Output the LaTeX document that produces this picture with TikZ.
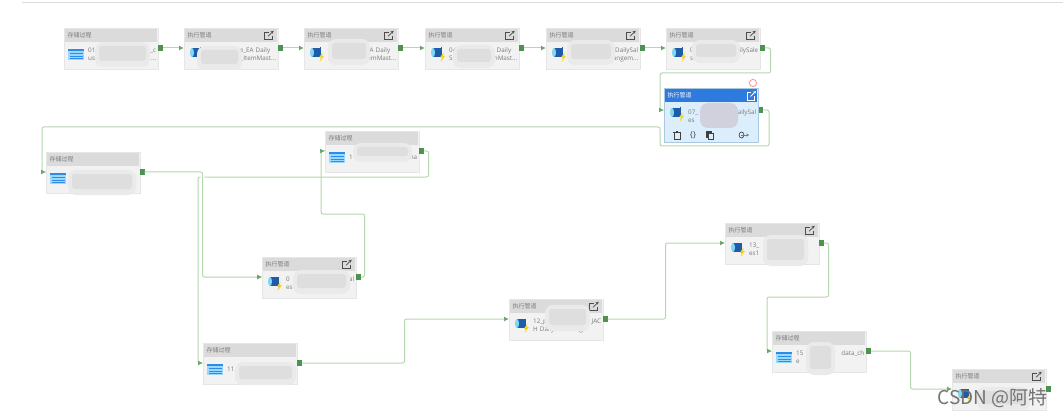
\documentclass[tikz,border=0pt]{standalone}
\usepackage{fontspec}
\setmainfont{Open Sans}
\newfontfamily\cjk{Noto Sans CJK SC}
\usetikzlibrary{arrows.meta}

\definecolor{wiregreen}{HTML}{B6D5B1}
\definecolor{tipgreen}{HTML}{6BA868}
\definecolor{portgreen}{HTML}{4C9350}
\definecolor{cardfill}{HTML}{F2F2F2}
\definecolor{cardline}{HTML}{E6E6E6}
\definecolor{headfill}{HTML}{DBDBDB}
\definecolor{labelgrey}{HTML}{7A7A7A}
\definecolor{pickfill}{HTML}{DCEDFB}
\definecolor{pickhead}{HTML}{2F7BDD}
\definecolor{pickline}{HTML}{A9C9E2}
\definecolor{drumblue}{HTML}{1F5CA8}
\definecolor{drumcap}{HTML}{7FD6F5}
\definecolor{boltyellow}{HTML}{F7D21E}
\definecolor{sheetblue}{HTML}{2C8CE6}
\definecolor{sheetpale}{HTML}{9AD9FF}
\definecolor{smudge}{HTML}{EAEAEA}
\definecolor{smudgecore}{HTML}{DEDEDE}

\tikzset{
  execicon/.pic={
    \fill[drumblue] (-4,-5) rectangle (3.5,4);
    \fill[drumblue] (3.5,-5.5) rectangle (5,4.5);
    \fill[drumcap] (-4,-.5) ellipse (2 and 4.5);
    \fill[boltyellow] (6.5,-.5) -- (3,4.5) -- (5,4.5) -- (3.5,9) -- (8,3) -- (6,3) -- cycle;
  },
  procicon/.pic={
    \fill[sheetpale] (-8,-3.8) rectangle (8,7.2);
    \fill[sheetblue] (-8,-3.8) rectangle (8,-1.8);
    \foreach \ya in {0.2,2.6,5} \fill[sheetblue] (-6.5,\ya) rectangle (6.5,\ya+.9);
  },
  linkicon/.pic={
    \draw[line width=.8pt] (0,-3.5) -- (-4,-3.5) -- (-4,4) -- (3.5,4) -- (3.5,0);
    \draw[line width=.8pt,-{Stealth[length=3pt,width=3pt]}] (-.5,.5) -- (5,-5);
  }
}

% one card: name, left, top, title, icon, text
\newcommand{\flowcard}[6]{
  \node[cardbox] (#1) at (#2,#3) {};
  \node[cardhead] (#1h) at ([yshift=-1pt]#1.north) {#4};
  \node[port] (#1o) at (#2+96.5,#3+20) {};
  \coordinate (#1i) at (#2,#3+20);
  \pic at (#2+12,#3+25) {#5};
  \node[cardtext] (#1t) at (#2+24,#3+26.5) {#6};
}
\newcommand{\lineab}[2]{\makebox[68pt]{#1\hfill #2}}

\begin{document}
\begin{tikzpicture}[x=1pt, y=-1pt, font=\fontsize{6.3}{8}\selectfont,
  cardbox/.style={draw=cardline, fill=cardfill, anchor=north west, minimum width=94pt, minimum height=41pt, inner sep=0pt},
  cardhead/.style={fill=headfill, anchor=north, minimum width=92.5pt, minimum height=13pt, inner sep=0pt, text width=87pt, align=left, text=labelgrey, font=\cjk\fontsize{6}{7}\selectfont},
  cardtext/.style={anchor=west, text width=68pt, align=left, inner sep=0pt, text=labelgrey},
  port/.style={fill=portgreen, minimum width=4.5pt, minimum height=5.5pt, inner sep=0pt},
  wire/.style={draw=wiregreen, line width=1pt, rounded corners=2pt, -{Latex[length=5pt,width=5pt,color=tipgreen]}}]
\useasboundingbox (0,0) rectangle (1063,417);
\draw[draw=headfill, line width=1pt] (22,3) -- (1063,3);

% first row
\flowcard{b1}{64}{28}{存储过程}{procicon}{\lineab{01}{\_c}\\\lineab{us}{...}}
\flowcard{b2}{184}{28}{执行管道}{execicon}{\lineab{}{e\_EA Daily\hspace{6pt}}\\\lineab{}{\_ItemMast...}}
\flowcard{b3}{304}{28}{执行管道}{execicon}{\lineab{}{A Daily\hspace{6pt}}\\\lineab{S}{temMast...}}
\flowcard{b4}{425}{28}{执行管道}{execicon}{\lineab{04}{Daily\hspace{6pt}}\\\lineab{S}{nMast...}}
\flowcard{b5}{546}{28}{执行管道}{execicon}{\lineab{}{DailySal}\\\lineab{}{angem...}}
\flowcard{b6}{666}{28}{执行管道}{execicon}{\lineab{0}{ilySale}\\s}

% selected card
\node[cardbox, draw=pickline, fill=pickfill, minimum height=54pt] (b7) at (664,88) {};
\node[cardhead, fill=pickhead, text=white] (b7h) at ([yshift=-1pt]b7.north) {执行管道};
\node[port] (b7o) at (761,110) {};
\coordinate (b7i) at (664,110);
\pic at (676,113) {execicon};
\node[cardtext] (b7t) at (688,116.5) {\lineab{07\_}{DailySal}\\es};
\draw[red!45, line width=.8pt] (753,83) circle (3.6);
\pic[white] at (751,96) {linkicon};
% toolbar
\draw[black!75, line width=.9pt] (674,132) rectangle (680,139) (673,132) -- (681,132) (676,131) -- (678,131);
\node[text=black!75, font=\fontsize{8}{8}\selectfont, inner sep=0pt] (braces) at (693,135) {\{\}};
\draw[black!75, line width=.9pt, fill=black!75] (706,131) rectangle (711,137);
\draw[black!75, line width=.9pt, fill=pickfill] (708,133) rectangle (713,139);
\draw[black!70, line width=.7pt] (741.5,135) ellipse (2.4 and 3);
\draw[cyan!70!black, line width=.7pt, -{Stealth[length=2.5pt,width=3pt]}] (741,135) -- (749,135);

% lower cards
\flowcard{b8}{46}{152}{存储过程}{procicon}{}
\flowcard{b9}{325}{131}{存储过程}{procicon}{\lineab{1}{na}}
\flowcard{b10}{262}{257}{执行管道}{execicon}{\lineab{0}{al}\\es}
\flowcard{b11}{203}{343}{存储过程}{procicon}{11}
\flowcard{b12}{509}{299}{执行管道}{execicon}{\lineab{12\_p}{JAC}\\H Daily\hspace{18pt}aag}
\flowcard{b13}{725}{223}{执行管道}{execicon}{13\_\\es1}
\flowcard{b15}{772}{331}{存储过程}{procicon}{\lineab{15}{data\_ch}\\e}
\flowcard{b16}{952}{369}{执行管道}{execicon}{}

% header icons
\foreach \nm in {b2,b3,b4,b5,b6,b10,b12,b13,b16}
  \pic[black!70] at ([xshift=-9pt]\nm h.east) {linkicon};

% smudges over the names
\foreach \xa/\ya/\xb/\yb in {95/42/150/67,197/46/242/70,328/39/370/65,453/45/495/68,567/40/615/65,692/40/740/63,68/170/136/195,353/143/412/162,293/270/350/294,235/362/296/385,545/305/590/331,763/235/808/266,806/342/835/375,977/387/1030/410}{
  \fill[smudge, rounded corners=8pt] (\xa,\ya) rectangle (\xb,\yb);
  \fill[smudgecore, rounded corners=3pt] (\xa+4,\ya+4) rectangle (\xb-4,\yb-6);
}
\fill[blue!25!black!18, rounded corners=8pt] (700,103) rectangle (738,128);

% connectors
\draw[wire] (b1o) -- (b2i);
\draw[wire] (b2o) -- (b3i);
\draw[wire] (b3o) -- (b4i);
\draw[wire] (b4o) -- (b5i);
\draw[wire] (b5o) -- (b6i);
\draw[wire] (b6o) -- ++(8,0) |- (660,73) |- (b7i);
\draw[wire] (b7o) -- ++(8,0) |- (660,146) |- (42,127) |- (b8i);
\draw[wire] (b9o) -- ++(7,0) |- (198,177) |- (b11i);
\draw[wire, preaction={draw=white, line width=4pt}] (b8o) -- ++(60,0) |- (b10i);
\draw[wire] (b10o) -- ++(6,0) |- (321,214) |- (b9i);
\draw[wire] (b11o) -- ++(105,0) |- (b12i);
\draw[wire] (b12o) -- ++(60,0) |- (b13i);
\draw[wire] (b13o) -- ++(7,0) |- (767,297) |- (b15i);
\draw[wire] (b15o) -- ++(42,0) |- (b16i);

\node[text=black!55, font=\cjk\fontsize{19}{19}\selectfont, anchor=east, inner sep=0pt] (mark) at (1048,398) {CSDN @阿特};
\end{tikzpicture}
\end{document}
